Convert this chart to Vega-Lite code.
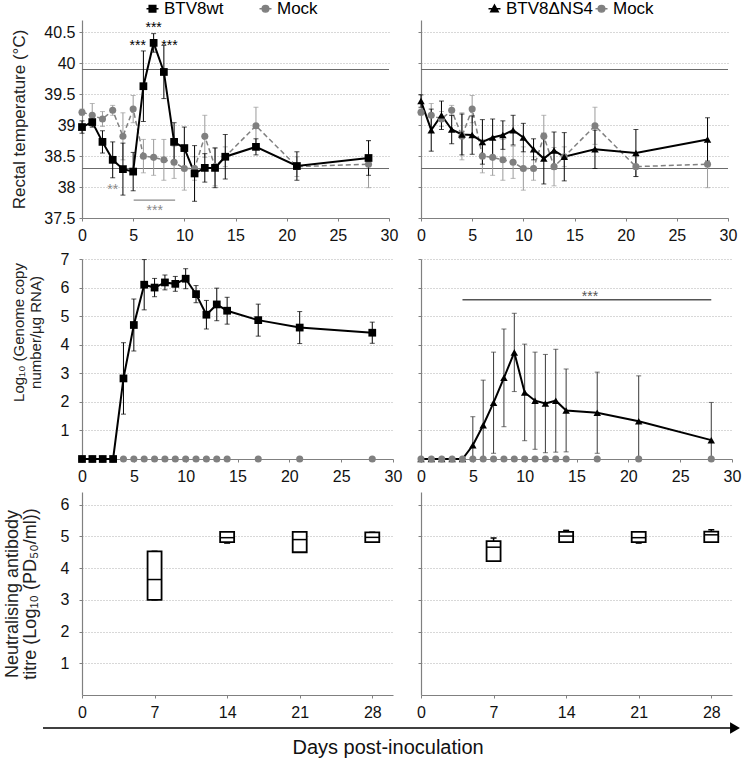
{
  "$schema": "https://vega.github.io/schema/vega-lite/v6.json",
  "padding": {"left": 3, "top": 0, "right": 0, "bottom": 0},
  "autosize": {"type": "pad"},
  "datasets": {
    "temp": [
      {"series": "BTV8wt", "day": 0, "temp": 38.97, "sd": 0.10},
      {"series": "BTV8wt", "day": 1, "temp": 39.05, "sd": 0.08},
      {"series": "BTV8wt", "day": 2, "temp": 38.73, "sd": 0.18},
      {"series": "BTV8wt", "day": 3, "temp": 38.44, "sd": 0.29},
      {"series": "BTV8wt", "day": 4, "temp": 38.29, "sd": 0.42},
      {"series": "BTV8wt", "day": 5, "temp": 38.25, "sd": 0.31},
      {"series": "BTV8wt", "day": 6, "temp": 39.63, "sd": 0.57},
      {"series": "BTV8wt", "day": 7, "temp": 40.33, "sd": 0.15},
      {"series": "BTV8wt", "day": 8, "temp": 39.86, "sd": 0.43},
      {"series": "BTV8wt", "day": 9, "temp": 38.73, "sd": 0.31},
      {"series": "BTV8wt", "day": 10, "temp": 38.63, "sd": 0.34},
      {"series": "BTV8wt", "day": 11, "temp": 38.22, "sd": 0.45},
      {"series": "BTV8wt", "day": 12, "temp": 38.31, "sd": 0.23},
      {"series": "BTV8wt", "day": 13, "temp": 38.31, "sd": 0.32},
      {"series": "BTV8wt", "day": 14, "temp": 38.49, "sd": 0.36},
      {"series": "BTV8wt", "day": 17, "temp": 38.65, "sd": 0.13},
      {"series": "BTV8wt", "day": 21, "temp": 38.34, "sd": 0.23},
      {"series": "BTV8wt", "day": 28, "temp": 38.47, "sd": 0.28},
      {"series": "BTV8ΔNS4", "day": 0, "temp": 39.39, "sd": 0.10},
      {"series": "BTV8ΔNS4", "day": 1, "temp": 38.92, "sd": 0.34},
      {"series": "BTV8ΔNS4", "day": 2, "temp": 39.16, "sd": 0.23},
      {"series": "BTV8ΔNS4", "day": 3, "temp": 38.93, "sd": 0.23},
      {"series": "BTV8ΔNS4", "day": 4, "temp": 38.85, "sd": 0.33},
      {"series": "BTV8ΔNS4", "day": 5, "temp": 38.84, "sd": 0.31},
      {"series": "BTV8ΔNS4", "day": 6, "temp": 38.73, "sd": 0.36},
      {"series": "BTV8ΔNS4", "day": 7, "temp": 38.80, "sd": 0.30},
      {"series": "BTV8ΔNS4", "day": 8, "temp": 38.84, "sd": 0.23},
      {"series": "BTV8ΔNS4", "day": 9, "temp": 38.92, "sd": 0.24},
      {"series": "BTV8ΔNS4", "day": 10, "temp": 38.80, "sd": 0.23},
      {"series": "BTV8ΔNS4", "day": 11, "temp": 38.61, "sd": 0.17},
      {"series": "BTV8ΔNS4", "day": 12, "temp": 38.46, "sd": 0.41},
      {"series": "BTV8ΔNS4", "day": 13, "temp": 38.59, "sd": 0.30},
      {"series": "BTV8ΔNS4", "day": 14, "temp": 38.49, "sd": 0.39},
      {"series": "BTV8ΔNS4", "day": 17, "temp": 38.61, "sd": 0.31},
      {"series": "BTV8ΔNS4", "day": 21, "temp": 38.55, "sd": 0.38},
      {"series": "BTV8ΔNS4", "day": 28, "temp": 38.77, "sd": 0.35},
      {"series": "Mock", "day": 0, "temp": 39.21, "sd": 0.05},
      {"series": "Mock", "day": 1, "temp": 39.16, "sd": 0.19},
      {"series": "Mock", "day": 2, "temp": 39.10, "sd": 0.12},
      {"series": "Mock", "day": 3, "temp": 39.24, "sd": 0.08},
      {"series": "Mock", "day": 4, "temp": 38.82, "sd": 0.38},
      {"series": "Mock", "day": 5, "temp": 39.26, "sd": 0.22},
      {"series": "Mock", "day": 6, "temp": 38.50, "sd": 0.27},
      {"series": "Mock", "day": 7, "temp": 38.48, "sd": 0.29},
      {"series": "Mock", "day": 8, "temp": 38.44, "sd": 0.33},
      {"series": "Mock", "day": 9, "temp": 38.40, "sd": 0.26},
      {"series": "Mock", "day": 10, "temp": 38.30, "sd": 0.35},
      {"series": "Mock", "day": 11, "temp": 38.30, "sd": 0.19},
      {"series": "Mock", "day": 12, "temp": 38.82, "sd": 0.34},
      {"series": "Mock", "day": 13, "temp": 38.33, "sd": 0.31},
      {"series": "Mock", "day": 14, "temp": 38.49, "sd": 0.16},
      {"series": "Mock", "day": 17, "temp": 38.99, "sd": 0.30},
      {"series": "Mock", "day": 21, "temp": 38.33, "sd": 0.16},
      {"series": "Mock", "day": 28, "temp": 38.37, "sd": 0.38}
    ],
    "rna": [
      {"series": "BTV8wt", "day": 0, "rna": 0, "sd": 0},
      {"series": "BTV8wt", "day": 1, "rna": 0, "sd": 0},
      {"series": "BTV8wt", "day": 2, "rna": 0, "sd": 0},
      {"series": "BTV8wt", "day": 3, "rna": 0, "sd": 0},
      {"series": "BTV8wt", "day": 4, "rna": 2.82, "sd": 1.25},
      {"series": "BTV8wt", "day": 5, "rna": 4.69, "sd": 0.91},
      {"series": "BTV8wt", "day": 6, "rna": 6.10, "sd": 0.88},
      {"series": "BTV8wt", "day": 7, "rna": 6.00, "sd": 0.32},
      {"series": "BTV8wt", "day": 8, "rna": 6.18, "sd": 0.26},
      {"series": "BTV8wt", "day": 9, "rna": 6.13, "sd": 0.26},
      {"series": "BTV8wt", "day": 10, "rna": 6.31, "sd": 0.35},
      {"series": "BTV8wt", "day": 11, "rna": 5.77, "sd": 0.30},
      {"series": "BTV8wt", "day": 12, "rna": 5.05, "sd": 0.50},
      {"series": "BTV8wt", "day": 13, "rna": 5.41, "sd": 0.57},
      {"series": "BTV8wt", "day": 14, "rna": 5.19, "sd": 0.47},
      {"series": "BTV8wt", "day": 17, "rna": 4.86, "sd": 0.56},
      {"series": "BTV8wt", "day": 21, "rna": 4.60, "sd": 0.56},
      {"series": "BTV8wt", "day": 28, "rna": 4.42, "sd": 0.37},
      {"series": "BTV8ΔNS4", "day": 0, "rna": 0, "sd": 0},
      {"series": "BTV8ΔNS4", "day": 1, "rna": 0, "sd": 0},
      {"series": "BTV8ΔNS4", "day": 2, "rna": 0, "sd": 0},
      {"series": "BTV8ΔNS4", "day": 3, "rna": 0, "sd": 0},
      {"series": "BTV8ΔNS4", "day": 4, "rna": 0, "sd": 0},
      {"series": "BTV8ΔNS4", "day": 5, "rna": 0.48, "sd": 1.0},
      {"series": "BTV8ΔNS4", "day": 6, "rna": 1.18, "sd": 1.58},
      {"series": "BTV8ΔNS4", "day": 7, "rna": 1.97, "sd": 1.77},
      {"series": "BTV8ΔNS4", "day": 8, "rna": 2.84, "sd": 1.71},
      {"series": "BTV8ΔNS4", "day": 9, "rna": 3.73, "sd": 1.37},
      {"series": "BTV8ΔNS4", "day": 10, "rna": 2.33, "sd": 1.69},
      {"series": "BTV8ΔNS4", "day": 11, "rna": 2.04, "sd": 1.70},
      {"series": "BTV8ΔNS4", "day": 12, "rna": 1.94, "sd": 1.72},
      {"series": "BTV8ΔNS4", "day": 13, "rna": 2.04, "sd": 1.80},
      {"series": "BTV8ΔNS4", "day": 14, "rna": 1.70, "sd": 1.45},
      {"series": "BTV8ΔNS4", "day": 17, "rna": 1.62, "sd": 1.42},
      {"series": "BTV8ΔNS4", "day": 21, "rna": 1.32, "sd": 1.59},
      {"series": "BTV8ΔNS4", "day": 28, "rna": 0.66, "sd": 1.32},
      {"series": "Mock", "day": 0, "rna": 0, "sd": 0},
      {"series": "Mock", "day": 1, "rna": 0, "sd": 0},
      {"series": "Mock", "day": 2, "rna": 0, "sd": 0},
      {"series": "Mock", "day": 3, "rna": 0, "sd": 0},
      {"series": "Mock", "day": 4, "rna": 0, "sd": 0},
      {"series": "Mock", "day": 5, "rna": 0, "sd": 0},
      {"series": "Mock", "day": 6, "rna": 0, "sd": 0},
      {"series": "Mock", "day": 7, "rna": 0, "sd": 0},
      {"series": "Mock", "day": 8, "rna": 0, "sd": 0},
      {"series": "Mock", "day": 9, "rna": 0, "sd": 0},
      {"series": "Mock", "day": 10, "rna": 0, "sd": 0},
      {"series": "Mock", "day": 11, "rna": 0, "sd": 0},
      {"series": "Mock", "day": 12, "rna": 0, "sd": 0},
      {"series": "Mock", "day": 13, "rna": 0, "sd": 0},
      {"series": "Mock", "day": 14, "rna": 0, "sd": 0},
      {"series": "Mock", "day": 17, "rna": 0, "sd": 0},
      {"series": "Mock", "day": 21, "rna": 0, "sd": 0},
      {"series": "Mock", "day": 28, "rna": 0, "sd": 0}
    ],
    "ab": [
      {"series": "BTV8wt", "day": 7, "lo": 3.0, "q1": 3.0, "median": 3.64, "q3": 4.53, "hi": 4.53},
      {"series": "BTV8wt", "day": 14, "lo": 4.79, "q1": 4.82, "median": 4.96, "q3": 5.14, "hi": 5.14},
      {"series": "BTV8wt", "day": 21, "lo": 4.5, "q1": 4.5, "median": 4.9, "q3": 5.14, "hi": 5.14},
      {"series": "BTV8wt", "day": 28, "lo": 4.82, "q1": 4.82, "median": 4.97, "q3": 5.13, "hi": 5.13},
      {"series": "BTV8ΔNS4", "day": 7, "lo": 4.22, "q1": 4.22, "median": 4.66, "q3": 4.85, "hi": 4.95},
      {"series": "BTV8ΔNS4", "day": 14, "lo": 4.82, "q1": 4.82, "median": 5.01, "q3": 5.14, "hi": 5.19},
      {"series": "BTV8ΔNS4", "day": 21, "lo": 4.79, "q1": 4.82, "median": 4.96, "q3": 5.14, "hi": 5.14},
      {"series": "BTV8ΔNS4", "day": 28, "lo": 4.82, "q1": 4.82, "median": 5.05, "q3": 5.15, "hi": 5.21}
    ],
    "refs": [{"temp": 39.9}, {"temp": 38.3}],
    "notes": [
      {"panel": "temp", "grp": "virus", "day": 7, "temp": 40.5, "label": "***"},
      {"panel": "temp", "grp": "virus", "day": 5.45, "temp": 40.21, "label": "***"},
      {"panel": "temp", "grp": "virus", "day": 8.55, "temp": 40.21, "label": "***"},
      {"panel": "temp", "grp": "mock", "day": 3, "temp": 37.89, "label": "**"},
      {"panel": "temp", "grp": "mock", "day": 7.1, "temp": 37.55, "label": "***"},
      {"panel": "rna", "grp": "ns4", "day": 16.3, "rna": 5.52, "label": "***"}
    ],
    "spans": [
      {"panel": "temp", "day": 5.05, "day2": 9.1, "temp": 37.79},
      {"panel": "rna", "day": 4, "day2": 28, "rna": 5.57}
    ]
  },
  "vconcat": [
    {
      "columns": 2,
      "spacing": {"row": 8, "column": 14},
      "resolve": {"scale": {"x": "independent", "y": "independent", "fill": "independent", "stroke": "independent", "shape": "independent"}},
      "concat": [
        {
          "width": 307, "height": 198,
          "layer": [
            {"data": {"name": "refs"}, "mark": {"type": "rule", "color": "#6b6b6b", "strokeWidth": 1.2},
             "encoding": {"y": {"field": "temp", "type": "quantitative", "scale": {"domain": [37.5, 40.7], "nice": false, "zero": false}, "axis": {"values": [37.5, 38, 38.5, 39, 39.5, 40, 40.5], "format": ".1~f", "title": "Rectal temperature (°C)", "titleFontSize": 17, "grid": true, "labelPadding": 4, "titlePadding": 15}}}},
            {
              "encoding": {
                "x": {"field": "day", "type": "quantitative", "scale": {"domain": [0, 30], "nice": false}, "axis": {"values": [0, 5, 10, 15, 20, 25, 30], "title": null, "grid": false, "labelPadding": 6}},
                "y": {"field": "temp", "type": "quantitative", "scale": {"domain": [37.5, 40.7], "nice": false, "zero": false}, "axis": {"values": [37.5, 38, 38.5, 39, 39.5, 40, 40.5], "format": ".1~f", "title": "Rectal temperature (°C)", "titleFontSize": 17, "grid": true, "labelPadding": 4, "titlePadding": 15}}
              },
              "layer": [
                {"data": {"name": "temp"}, "transform": [{"filter": "datum.series === 'Mock'"}],
                 "mark": {"type": "errorbar", "color": "#9a9a9a", "thickness": 1, "ticks": {"size": 5}},
                 "encoding": {"yError": {"field": "sd"}}},
                {"data": {"name": "temp"}, "transform": [{"filter": "datum.series === 'Mock'"}],
                 "mark": {"type": "line", "color": "#808080", "strokeWidth": 1.5, "strokeDash": [5, 3]}},
                {"data": {"name": "temp"}, "transform": [{"filter": "datum.series === 'BTV8wt'"}],
                 "mark": {"type": "errorbar", "color": "#000000", "thickness": 1, "ticks": {"size": 5}},
                 "encoding": {"yError": {"field": "sd"}}},
                {"data": {"name": "temp"}, "transform": [{"filter": "datum.series === 'BTV8wt'"}],
                 "mark": {"type": "line", "color": "#000000", "strokeWidth": 2}},
                {"data": {"name": "temp"}, "transform": [{"filter": "datum.series === 'Mock'"}],
                 "mark": {"type": "point", "shape": "circle", "filled": true, "size": 50, "opacity": 1, "color": "#808080"}},
                {"data": {"name": "temp"}, "transform": [{"filter": "datum.series === 'BTV8wt'"}],
                 "mark": {"type": "point", "shape": "square", "filled": true, "size": 60, "opacity": 1, "color": "#000000"}},
                {"data": {"name": "temp"}, "transform": [{"filter": "false"}],
                 "mark": {"type": "point", "filled": false, "strokeWidth": 1.5, "opacity": 1},
                 "encoding": {
                   "fill": {"field": "series", "type": "nominal", "scale": {"domain": ["BTV8wt", "Mock"], "range": ["#000000", "#808080"]},
                     "legend": {"title": null, "orient": "none", "legendX": 62, "legendY": -20, "direction": "horizontal", "labelFontSize": 17, "labelOffset": 3, "columnPadding": 32, "symbolSize": 144, "symbolStrokeWidth": 1.5,
                       "encode": {"labels": {"update": {"fill": {"signal": "datum.value === 'Mock' ? '#808080' : '#000000'"}}}}}},
                   "stroke": {"field": "series", "type": "nominal", "scale": {"domain": ["BTV8wt", "Mock"], "range": ["#000000", "#808080"]},
                     "legend": {"title": null, "orient": "none", "legendX": 62, "legendY": -20, "direction": "horizontal", "labelFontSize": 17, "labelOffset": 3, "columnPadding": 32, "symbolSize": 144, "symbolStrokeWidth": 1.5,
                       "encode": {"labels": {"update": {"fill": {"signal": "datum.value === 'Mock' ? '#808080' : '#000000'"}}}}}},
                   "shape": {"field": "series", "type": "nominal", "scale": {"domain": ["BTV8wt", "Mock"], "range": ["M-1,0H1M-0.55,-0.55H0.55V0.55H-0.55Z", "M-1,0H1M0.55,0A0.55,0.55 0 1,1 -0.55,0A0.55,0.55 0 1,1 0.55,0Z"]},
                     "legend": {"title": null, "orient": "none", "legendX": 62, "legendY": -20, "direction": "horizontal", "labelFontSize": 17, "labelOffset": 3, "columnPadding": 32, "symbolSize": 144, "symbolStrokeWidth": 1.5,
                       "encode": {"labels": {"update": {"fill": {"signal": "datum.value === 'Mock' ? '#808080' : '#000000'"}}}}}}}},
                {"data": {"name": "notes"}, "transform": [{"filter": "datum.panel === 'temp' && datum.grp === 'virus'"}],
                 "mark": {"type": "text", "fontSize": 14, "color": "#000000", "baseline": "alphabetic"},
                 "encoding": {"text": {"field": "label"}}},
                {"data": {"name": "notes"}, "transform": [{"filter": "datum.panel === 'temp' && datum.grp === 'mock'"}],
                 "mark": {"type": "text", "fontSize": 14, "color": "#8a8a8a", "baseline": "alphabetic"},
                 "encoding": {"text": {"field": "label"}}},
                {"data": {"name": "spans"}, "transform": [{"filter": "datum.panel === 'temp'"}],
                 "mark": {"type": "rule", "color": "#8a8a8a", "strokeWidth": 1.2},
                 "encoding": {"x2": {"field": "day2"}}}
              ]
            }
          ]
        },
        {
          "width": 307, "height": 198,
          "layer": [
            {"data": {"name": "refs"}, "mark": {"type": "rule", "color": "#6b6b6b", "strokeWidth": 1.2},
             "encoding": {"y": {"field": "temp", "type": "quantitative", "scale": {"domain": [37.5, 40.7], "nice": false, "zero": false}, "axis": {"values": [37.5, 38, 38.5, 39, 39.5, 40, 40.5], "labels": false, "title": null, "grid": true}}}},
            {
              "encoding": {
                "x": {"field": "day", "type": "quantitative", "scale": {"domain": [0, 30], "nice": false}, "axis": {"values": [0, 5, 10, 15, 20, 25, 30], "title": null, "grid": false, "labelPadding": 6}},
                "y": {"field": "temp", "type": "quantitative", "scale": {"domain": [37.5, 40.7], "nice": false, "zero": false}, "axis": {"values": [37.5, 38, 38.5, 39, 39.5, 40, 40.5], "labels": false, "title": null, "grid": true}}
              },
              "layer": [
                {"data": {"name": "temp"}, "transform": [{"filter": "datum.series === 'Mock'"}],
                 "mark": {"type": "errorbar", "color": "#9a9a9a", "thickness": 1, "ticks": {"size": 5}},
                 "encoding": {"yError": {"field": "sd"}}},
                {"data": {"name": "temp"}, "transform": [{"filter": "datum.series === 'Mock'"}],
                 "mark": {"type": "line", "color": "#808080", "strokeWidth": 1.5, "strokeDash": [5, 3]}},
                {"data": {"name": "temp"}, "transform": [{"filter": "datum.series === 'BTV8ΔNS4'"}],
                 "mark": {"type": "errorbar", "color": "#000000", "thickness": 1, "ticks": {"size": 5}},
                 "encoding": {"yError": {"field": "sd"}}},
                {"data": {"name": "temp"}, "transform": [{"filter": "datum.series === 'BTV8ΔNS4'"}],
                 "mark": {"type": "line", "color": "#000000", "strokeWidth": 2}},
                {"data": {"name": "temp"}, "transform": [{"filter": "datum.series === 'Mock'"}],
                 "mark": {"type": "point", "shape": "circle", "filled": true, "size": 50, "opacity": 1, "color": "#808080"}},
                {"data": {"name": "temp"}, "transform": [{"filter": "datum.series === 'BTV8ΔNS4'"}],
                 "mark": {"type": "point", "shape": "triangle-up", "filled": true, "size": 56, "opacity": 1, "color": "#000000"}},
                {"data": {"name": "temp"}, "transform": [{"filter": "false"}],
                 "mark": {"type": "point", "filled": false, "strokeWidth": 1.5, "opacity": 1},
                 "encoding": {
                   "fill": {"field": "series", "type": "nominal", "scale": {"domain": ["BTV8ΔNS4", "Mock"], "range": ["#000000", "#808080"]},
                     "legend": {"title": null, "orient": "none", "legendX": 65, "legendY": -20, "direction": "horizontal", "labelFontSize": 17, "labelOffset": 3, "columnPadding": -11, "symbolSize": 144, "symbolStrokeWidth": 1.5,
                       "encode": {"labels": {"update": {"fill": {"signal": "datum.value === 'Mock' ? '#808080' : '#000000'"}, "fontSize": {"signal": "datum.value === 'Mock' ? 20 : 17"}}}}}},
                   "stroke": {"field": "series", "type": "nominal", "scale": {"domain": ["BTV8ΔNS4", "Mock"], "range": ["#000000", "#808080"]},
                     "legend": {"title": null, "orient": "none", "legendX": 65, "legendY": -20, "direction": "horizontal", "labelFontSize": 17, "labelOffset": 3, "columnPadding": -11, "symbolSize": 144, "symbolStrokeWidth": 1.5,
                       "encode": {"labels": {"update": {"fill": {"signal": "datum.value === 'Mock' ? '#808080' : '#000000'"}, "fontSize": {"signal": "datum.value === 'Mock' ? 20 : 17"}}}}}},
                   "shape": {"field": "series", "type": "nominal", "scale": {"domain": ["BTV8ΔNS4", "Mock"], "range": ["M-1,0H1M0,-0.62L0.62,0.5H-0.62Z", "M-1,0H1M0.55,0A0.55,0.55 0 1,1 -0.55,0A0.55,0.55 0 1,1 0.55,0Z"]},
                     "legend": {"title": null, "orient": "none", "legendX": 65, "legendY": -20, "direction": "horizontal", "labelFontSize": 17, "labelOffset": 3, "columnPadding": -11, "symbolSize": 144, "symbolStrokeWidth": 1.5,
                       "encode": {"labels": {"update": {"fill": {"signal": "datum.value === 'Mock' ? '#808080' : '#000000'"}, "fontSize": {"signal": "datum.value === 'Mock' ? 20 : 17"}}}}}}}}
              ]
            }
          ]
        },
        {
          "width": 311, "height": 200,
          "encoding": {
            "x": {"field": "day", "type": "quantitative", "scale": {"domain": [0, 30], "nice": false}, "axis": {"values": [0, 5, 10, 15, 20, 25, 30], "title": null, "grid": false, "labelPadding": 6}},
            "y": {"field": "rna", "type": "quantitative", "scale": {"domain": [0, 7], "nice": false, "clamp": true}, "axis": {"values": [1, 2, 3, 4, 5, 6, 7], "title": ["Log₁₀ (Genome copy", "number/µg RNA)"], "titleFontSize": 15, "titleLineHeight": 17, "titleY": 73, "grid": true, "labelPadding": 10, "titlePadding": 17}}
          },
          "layer": [
            {"data": {"name": "rna"}, "transform": [{"filter": "datum.series === 'Mock'"}],
             "mark": {"type": "point", "shape": "circle", "filled": true, "size": 50, "opacity": 1, "color": "#808080"}},
            {"data": {"name": "rna"}, "transform": [{"filter": "datum.series === 'BTV8wt' && datum.sd > 0"}],
             "mark": {"type": "errorbar", "color": "#000000", "thickness": 1, "ticks": {"size": 5}},
             "encoding": {"yError": {"field": "sd"}}},
            {"data": {"name": "rna"}, "transform": [{"filter": "datum.series === 'BTV8wt'"}],
             "mark": {"type": "line", "color": "#000000", "strokeWidth": 2}},
            {"data": {"name": "rna"}, "transform": [{"filter": "datum.series === 'BTV8wt'"}],
             "mark": {"type": "point", "shape": "square", "filled": true, "size": 60, "opacity": 1, "color": "#000000"}}
          ]
        },
        {
          "width": 311, "height": 200,
          "encoding": {
            "x": {"field": "day", "type": "quantitative", "scale": {"domain": [0, 30], "nice": false}, "axis": {"values": [0, 5, 10, 15, 20, 25, 30], "title": null, "grid": false, "labelPadding": 6}},
            "y": {"field": "rna", "type": "quantitative", "scale": {"domain": [0, 7], "nice": false, "clamp": true}, "axis": {"values": [1, 2, 3, 4, 5, 6, 7], "labels": false, "title": null, "grid": true}}
          },
          "layer": [
            {"data": {"name": "rna"}, "transform": [{"filter": "datum.series === 'BTV8ΔNS4' && datum.sd > 0"}],
             "mark": {"type": "errorbar", "color": "#3a3a3a", "thickness": 1, "ticks": {"size": 5}},
             "encoding": {"yError": {"field": "sd"}}},
            {"data": {"name": "rna"}, "transform": [{"filter": "datum.series === 'BTV8ΔNS4'"}],
             "mark": {"type": "line", "color": "#000000", "strokeWidth": 2}},
            {"data": {"name": "rna"}, "transform": [{"filter": "datum.series === 'BTV8ΔNS4'"}],
             "mark": {"type": "point", "shape": "triangle-up", "filled": true, "size": 56, "opacity": 1, "color": "#000000"}},
            {"data": {"name": "rna"}, "transform": [{"filter": "datum.series === 'Mock'"}],
             "mark": {"type": "point", "shape": "circle", "filled": true, "size": 50, "opacity": 1, "color": "#808080"}},
            {"data": {"name": "spans"}, "transform": [{"filter": "datum.panel === 'rna'"}],
             "mark": {"type": "rule", "color": "#555555", "strokeWidth": 1.5},
             "encoding": {"x2": {"field": "day2"}}},
            {"data": {"name": "notes"}, "transform": [{"filter": "datum.panel === 'rna'"}],
             "mark": {"type": "text", "fontSize": 14, "color": "#555555", "baseline": "alphabetic"},
             "encoding": {"text": {"field": "label"}}}
          ]
        },
        {
          "width": 311, "height": 203,
          "data": {"name": "ab"},
          "transform": [{"filter": "datum.series === 'BTV8wt'"}],
          "encoding": {"x": {"field": "day", "type": "quantitative", "scale": {"domain": [0, 30], "nice": false, "padding": 0}, "axis": {"values": [0, 7, 14, 21, 28], "title": null, "grid": false, "labelPadding": 6}}},
          "layer": [
            {"mark": {"type": "rule", "color": "#000000", "strokeWidth": 1.5},
             "encoding": {"y": {"field": "lo", "type": "quantitative", "scale": {"domain": [0, 6.4], "nice": false}, "axis": {"values": [1, 2, 3, 4, 5, 6], "title": ["Neutralising antibody", "titre (Log₁₀ (PD₅₀/ml))"], "titleLineHeight": 18, "grid": true, "labelPadding": 10, "titlePadding": 21}}, "y2": {"field": "hi"}}},
            {"mark": {"type": "point", "shape": "M-1,0H1", "size": 36, "filled": false, "color": "#000000", "strokeWidth": 1.5, "opacity": 1},
             "encoding": {"y": {"field": "hi", "type": "quantitative"}}},
            {"mark": {"type": "point", "shape": "M-1,0H1", "size": 36, "filled": false, "color": "#000000", "strokeWidth": 1.5, "opacity": 1},
             "encoding": {"y": {"field": "lo", "type": "quantitative"}}},
            {"mark": {"type": "bar", "width": 14, "fill": "#ffffff", "stroke": "#000000", "strokeWidth": 1.8},
             "encoding": {"y": {"field": "q1", "type": "quantitative"}, "y2": {"field": "q3"}}},
            {"mark": {"type": "point", "shape": "M-1,0H1", "size": 196, "filled": false, "color": "#000000", "strokeWidth": 1.5, "opacity": 1},
             "encoding": {"y": {"field": "median", "type": "quantitative"}}}
          ]
        },
        {
          "width": 311, "height": 203,
          "data": {"name": "ab"},
          "transform": [{"filter": "datum.series === 'BTV8ΔNS4'"}],
          "encoding": {"x": {"field": "day", "type": "quantitative", "scale": {"domain": [0, 30], "nice": false, "padding": 0}, "axis": {"values": [0, 7, 14, 21, 28], "title": null, "grid": false, "labelPadding": 6}}},
          "layer": [
            {"mark": {"type": "rule", "color": "#000000", "strokeWidth": 1.5},
             "encoding": {"y": {"field": "lo", "type": "quantitative", "scale": {"domain": [0, 6.4], "nice": false}, "axis": {"values": [1, 2, 3, 4, 5, 6], "labels": false, "title": null, "grid": true}}, "y2": {"field": "hi"}}},
            {"mark": {"type": "point", "shape": "M-1,0H1", "size": 36, "filled": false, "color": "#000000", "strokeWidth": 1.5, "opacity": 1},
             "encoding": {"y": {"field": "hi", "type": "quantitative"}}},
            {"mark": {"type": "point", "shape": "M-1,0H1", "size": 36, "filled": false, "color": "#000000", "strokeWidth": 1.5, "opacity": 1},
             "encoding": {"y": {"field": "lo", "type": "quantitative"}}},
            {"mark": {"type": "bar", "width": 14, "fill": "#ffffff", "stroke": "#000000", "strokeWidth": 1.8},
             "encoding": {"y": {"field": "q1", "type": "quantitative"}, "y2": {"field": "q3"}}},
            {"mark": {"type": "point", "shape": "M-1,0H1", "size": 196, "filled": false, "color": "#000000", "strokeWidth": 1.5, "opacity": 1},
             "encoding": {"y": {"field": "median", "type": "quantitative"}}}
          ]
        }
      ]
    },
    {
      "width": 661, "height": 30,
      "data": {"values": [{"label": "Days post-inoculation"}]},
      "layer": [
        {"mark": {"type": "rule", "color": "#000000", "strokeWidth": 1.5},
         "encoding": {"x": {"datum": 0, "type": "quantitative", "scale": {"domain": [0.0557, 1.0], "nice": false, "zero": false}, "axis": null},
                      "x2": {"datum": 0.9886},
                      "y": {"datum": 1, "type": "quantitative", "scale": {"domain": [0, 1], "nice": false}, "axis": null}}},
        {"mark": {"type": "point", "shape": "triangle-right", "filled": true, "color": "#000000", "size": 130, "opacity": 1},
         "encoding": {"x": {"datum": 0.9886, "type": "quantitative"}, "y": {"datum": 1, "type": "quantitative"}}},
        {"mark": {"type": "text", "fontSize": 20, "baseline": "middle", "align": "center", "color": "#111111"},
         "encoding": {"text": {"field": "label"}, "x": {"datum": 0.493, "type": "quantitative"}, "y": {"datum": 0.32, "type": "quantitative"}}}
      ]
    }
  ],
  "spacing": 2,
  "config": {
    "font": "Liberation Sans",
    "view": {"stroke": null},
    "axis": {"labelFontSize": 16, "labelColor": "#111111", "labelFont": "Liberation Sans", "domainColor": "#808080", "tickColor": "#808080", "tickSize": 3, "gridColor": "#b0b0b0", "gridDash": [1, 2], "gridWidth": 1, "titleFont": "Liberation Sans", "titleFontSize": 18, "titleFontWeight": "normal", "titleColor": "#222222", "labelFlush": false, "labelOverlap": false, "domainWidth": 1.2},
    "legend": {"labelFont": "Liberation Sans"},
    "text": {"font": "Liberation Sans"}
  }
}
